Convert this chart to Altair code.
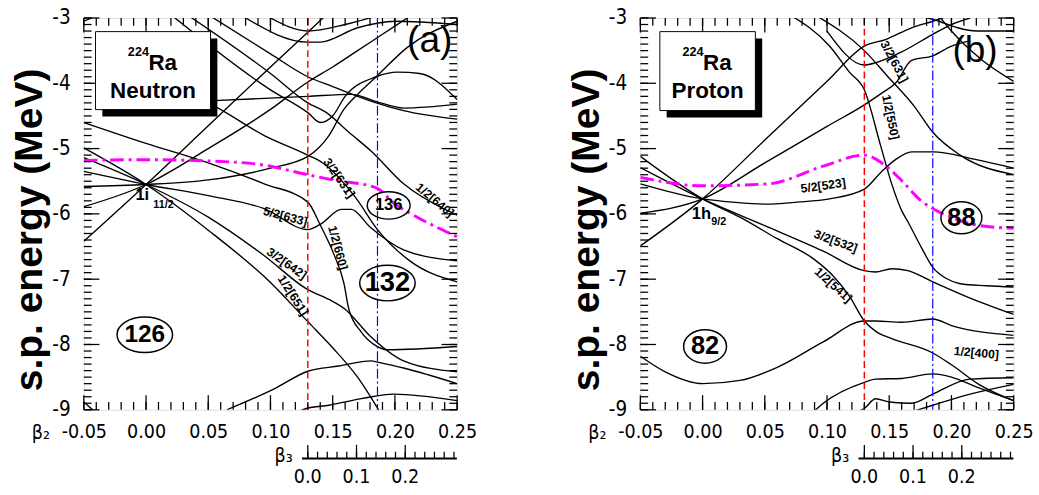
import altair as alt
import pandas as pd

W, H = 383, 402
XDOM = [-0.05, 0.25]
YDOM = [-9.0, -3.0]
NARROW = "Liberation Sans Narrow, Arial Narrow, DejaVu Sans Condensed, Roboto Condensed, Liberation Sans, Arial"
SANS = "Liberation Sans, Arial, Helvetica"

# ---------------- Panel (a): neutron levels (beta2, energy) ----------------
a_651_b = [-0.05, 0.0, 0.05, 0.10, 0.13, 0.15, 0.17, 0.19]
a_651_e = [-4.99, -5.55, -6.25, -7.05, -7.65, -8.05, -8.5, -9.1]
a_642_b = [-0.05, 0.0, 0.05, 0.095, 0.13, 0.147, 0.16, 0.18, 0.207, 0.25]
a_642_e = [-5.14, -5.55, -6.05, -6.64, -7.16, -7.31, -7.46, -7.87, -8.25, -8.42]
a_633_b = [-0.05, 0.0, 0.05, 0.095, 0.13, 0.14, 0.157, 0.165, 0.18, 0.207, 0.25]
a_633_e = [-5.35, -5.55, -5.72, -5.92, -6.24, -6.16, -5.93, -5.93, -6.2, -6.55, -6.72]
a_i7_b = [-0.05, 0.0, 0.05, 0.10, 0.13, 0.147, 0.159, 0.17, 0.185, 0.21, 0.25]
a_i7_e = [-5.58, -5.55, -5.48, -5.3, -5.12, -4.8, -4.4, -4.17, -3.9, -3.45, -3.05]
a_i9_b = [-0.05, 0.0, 0.05, 0.10, 0.13, 0.15, 0.17, 0.19, 0.21]
a_i9_e = [-5.89, -5.55, -5.0, -4.4, -3.98, -3.75, -3.5, -3.25, -3.0]
a_i11_b = [-0.05, 0.0, 0.05, 0.10, 0.13, 0.145]
a_i11_e = [-6.42, -5.55, -4.65, -3.75, -3.22, -2.95]
a_660_b = [-0.05, 0.0, 0.05, 0.095, 0.13, 0.14, 0.151, 0.159, 0.163, 0.173, 0.184, 0.194, 0.25]
a_660_e = [-4.6, -4.92, -5.22, -5.54, -5.82, -6.17, -6.62, -7.06, -7.46, -7.81, -8.01, -8.08, -8.03]
a_631_b = [-0.03, 0.0, 0.053, 0.095, 0.13, 0.142, 0.168, 0.186, 0.212, 0.25]
a_631_e = [-3.75, -3.95, -4.33, -4.8, -5.1, -5.22, -5.74, -6.24, -6.72, -7.04]
a_640_b = [0.033, 0.10, 0.13, 0.145, 0.163, 0.181, 0.207, 0.241, 0.25]
a_640_e = [-2.95, -3.85, -4.3, -4.45, -4.75, -5.04, -5.54, -5.94, -6.02]
a_hump_b = [0.02, 0.10, 0.13, 0.14, 0.15, 0.16, 0.185, 0.202, 0.22, 0.25]
a_hump_e = [-2.95, -4.1, -4.45, -4.6, -4.5, -4.2, -3.9, -3.83, -3.85, -4.25]
a_c_b = [0.05, 0.10, 0.13, 0.15, 0.17, 0.185, 0.207, 0.25]
a_c_e = [-2.95, -3.55, -3.9, -4.05, -4.2, -4.3, -4.42, -4.55]
a_flat_b = [-0.02, 0.05, 0.13, 0.165, 0.185, 0.207, 0.25]
a_flat_e = [-4.32, -4.27, -4.2, -4.17, -4.28, -4.38, -4.32]
a_top1_b = [0.08, 0.13, 0.14, 0.17, 0.20, 0.25]
a_top1_e = [-3.0, -3.37, -3.37, -3.15, -3.05, -3.1]
a_top2_b = [0.10, 0.13, 0.16, 0.185]
a_top2_e = [-3.0, -3.2, -3.1, -2.97]
a_cor1_b = [-0.05, -0.025]
a_cor1_e = [-3.05, -2.85]
a_p1_b = [0.065, 0.103, 0.13, 0.155, 0.181, 0.186, 0.207, 0.25]
a_p1_e = [-9.0, -8.68, -8.41, -8.33, -8.25, -8.27, -8.36, -8.6]
a_p2_b = [0.12, 0.129, 0.147, 0.173, 0.199, 0.25]
a_p2_e = [-9.05, -8.98, -8.93, -8.83, -8.76, -8.86]
a_cor2_b = [-0.05, -0.04]
a_cor2_e = [-8.88, -9.05]
a_fermi_b = [-0.05, 0.0, 0.05, 0.09, 0.13, 0.15, 0.185, 0.20, 0.215, 0.25]
a_fermi_e = [-5.18, -5.17, -5.19, -5.24, -5.4, -5.48, -5.6, -5.85, -6.02, -6.35]

# ---------------- Panel (b): proton levels ----------------
b_541_b = [-0.05, 0.0, 0.03, 0.06, 0.09, 0.105, 0.118, 0.13, 0.14, 0.152, 0.185, 0.2, 0.222, 0.25]
b_541_e = [-5.12, -5.77, -6.05, -6.38, -6.7, -6.95, -7.26, -7.64, -7.81, -7.91, -8.13, -8.31, -8.61, -8.86]
b_532_b = [-0.05, 0.0, 0.05, 0.097, 0.13, 0.139, 0.152, 0.165, 0.185, 0.215, 0.25]
b_532_e = [-5.29, -5.77, -6.18, -6.57, -6.87, -6.89, -6.84, -6.87, -7.04, -7.29, -7.54]
b_523_b = [-0.05, 0.0, 0.024, 0.05, 0.076, 0.102, 0.13, 0.144, 0.155, 0.168, 0.185, 0.22, 0.25]
b_523_e = [-5.54, -5.77, -5.82, -5.85, -5.82, -5.77, -5.62, -5.35, -5.17, -5.05, -5.05, -5.17, -5.3]
b_h7_b = [-0.05, 0.0, 0.05, 0.10, 0.13, 0.144, 0.155, 0.168, 0.185, 0.2, 0.215]
b_h7_e = [-5.99, -5.77, -5.22, -4.66, -4.33, -4.15, -4.0, -3.65, -3.58, -3.43, -3.35]
b_h9_b = [-0.05, 0.0, 0.05, 0.10, 0.13, 0.147, 0.168, 0.185, 0.20]
b_h9_e = [-6.49, -5.77, -4.87, -3.97, -3.43, -3.33, -3.15, -3.05, -2.95]
b_550_b = [0.07, 0.102, 0.118, 0.13, 0.143, 0.152, 0.16, 0.165, 0.176, 0.185, 0.196, 0.207, 0.228, 0.25]
b_550_e = [-2.95, -3.43, -3.83, -4.1, -4.95, -5.54, -5.95, -6.12, -6.52, -6.82, -6.99, -7.07, -7.1, -7.12]
b_631_b = [0.09, 0.13, 0.149, 0.17, 0.185, 0.207, 0.25]
b_631_e = [-2.95, -3.5, -3.9, -4.35, -4.75, -5.1, -5.4]
b_v_b = [0.10, 0.13, 0.14, 0.16, 0.185, 0.2, 0.215]
b_v_e = [-3.2, -3.72, -3.68, -3.52, -3.25, -3.1, -3.0]
b_t1_b = [0.175, 0.19, 0.205, 0.22, 0.25]
b_t1_e = [-2.97, -3.05, -3.15, -3.2, -3.2]
b_t2_b = [0.19, 0.2, 0.21, 0.225, 0.25]
b_t2_e = [-2.97, -3.2, -3.4, -3.65, -3.97]
b_u_b = [-0.05, -0.03, 0.0, 0.03, 0.06, 0.097, 0.13, 0.139, 0.16, 0.185, 0.2, 0.25]
b_u_e = [-8.18, -8.42, -8.6, -8.55, -8.35, -7.96, -7.64, -7.64, -7.66, -7.61, -7.71, -7.86]
b_l1_b = [0.088, 0.097, 0.13, 0.139, 0.16, 0.185, 0.2, 0.22, 0.25]
b_l1_e = [-9.05, -8.9, -8.58, -8.53, -8.52, -8.45, -8.5, -8.65, -8.86]
b_l2_b = [0.12, 0.13, 0.139, 0.15, 0.168, 0.185, 0.215, 0.25]
b_l2_e = [-9.05, -8.98, -8.83, -8.88, -8.9, -8.76, -8.53, -8.51]
b_l3_b = [0.165, 0.185, 0.215, 0.25]
b_l3_e = [-9.05, -8.93, -8.76, -8.61]
b_fermi_b = [-0.05, 0.0, 0.053, 0.097, 0.13, 0.144, 0.16, 0.175, 0.187, 0.196, 0.22, 0.25]
b_fermi_e = [-5.44, -5.57, -5.54, -5.27, -5.1, -5.22, -5.49, -5.79, -5.94, -6.02, -6.17, -6.22]

# deformation where beta3 switches on, and the second marker
a_red, a_blue = 0.13, 0.186
b_red, b_blue = 0.13, 0.185
# beta3 per unit of beta2 along the lower axis (0.1 in beta3 spans ~0.039 in beta2)
B3_PER_B2 = 0.3915

# Nilsson labels: text, beta2, energy
a_labels = [("3/2[631]", 0.155, -5.45), ("1/2[640]", 0.232, -5.79), ("5/2[633]", 0.112, -6.04),
            ("1/2[660]", 0.154, -6.52), ("3/2[642]", 0.113, -6.76), ("1/2[651]", 0.118, -7.25)]
a_label_ang = [55, 40, 15, 75, 35, 57]
b_labels = [("3/2[631]", 0.154, -3.67), ("1/2[550]", 0.151, -4.52), ("5/2[523]", 0.097, -5.57),
            ("3/2[532]", 0.107, -6.42), ("1/2[541]", 0.105, -7.09), ("1/2[400]", 0.22, -8.13)]
b_label_ang = [62, 78, 352, 20, 42, 5]
# shell gaps: text, beta2, energy
a_gaps = [("136", 0.195, -5.87), ("132", 0.194, -7.06), ("126", -0.001, -7.85)]
b_gaps = [("88", 0.208, -6.06), ("82", 0.002, -8.03)]

b2_major = [-0.05, 0.0, 0.05, 0.10, 0.15, 0.20, 0.25]
b2_minor = [round(-0.05 + 0.01 * i, 3) for i in range(31)]
e_major = [-9, -8, -7, -6, -5, -4, -3]
e_minor = [round(-9 + 0.1 * i, 2) for i in range(61)]
b3_major = [0.0, 0.1, 0.2]
b3_major_txt = ["0.0", "0.1", "0.2"]
b3_minor = [round(0.02 * i, 2) for i in range(16)]


def make_df(pairs):
    rows = []
    for name, (xs, ys) in pairs.items():
        for x, y in zip(xs, ys):
            rows.append({"id": name, "b2": x, "e": y})
    return pd.DataFrame(rows)


XS = alt.Scale(domain=XDOM, nice=False, zero=False)
YS = alt.Scale(domain=YDOM, nice=False, zero=False)
ONE = pd.DataFrame({"k": [0]})

ELL_WIDE = "M -1 0 A 1 0.64 0 1 1 1 0 A 1 0.64 0 1 1 -1 0 Z"
ELL_ROUND = "M -1 0 A 1 0.78 0 1 1 1 0 A 1 0.78 0 1 1 -1 0 Z"
MINUS_FIX = "replace(datum.label, '\u2212', '-')"

X_AXIS = alt.Axis(values=b2_major, format=".2f", labelExpr=MINUS_FIX, labelFontSize=20, labelFont=NARROW,
                  ticks=False, domain=False, grid=False, labelPadding=12, title=None, labelColor="black",
                  labelFlush=False)
Y_AXIS = alt.Axis(values=e_major, format="d", labelExpr=MINUS_FIX, labelFontSize=21, labelFont=NARROW,
                  ticks=False, domain=False, grid=False, labelPadding=14, labelColor="black",
                  title="s.p. energy (MeV)", titleFontSize=40, titleFont=SANS, titleFontWeight="bold",
                  titleColor="black", titleX=-35, titleY=217, titleAngle=270, titleBaseline="bottom",
                  titleAlign="center")


def X(f="b2"):
    return alt.X(f + ":Q", scale=XS)


def Y(f="e"):
    return alt.Y(f + ":Q", scale=YS)


def panel(levels, fermi, red, blue, labels, angles, gaps, gap_sizes, tag, nucleon, box, sub_pos):
    lines_df = make_df(levels)
    base_lines = alt.Chart(lines_df).mark_line(color="black", strokeWidth=1.4, clip=True,
                                                interpolate="monotone").encode(
        x=alt.X("b2:Q", scale=XS, axis=X_AXIS), y=alt.Y("e:Q", scale=YS, axis=Y_AXIS), detail="id:N")
    fermi_df = pd.DataFrame({"b2": fermi[0], "e": fermi[1]})
    fermi_line = alt.Chart(fermi_df).mark_line(color="#ff00ff", strokeWidth=3, strokeDash=[14, 5, 3, 5],
                                               clip=True, interpolate="monotone").encode(x=X(), y=Y())
    red_rule = alt.Chart(pd.DataFrame({"b2": [red]})).mark_rule(
        color="#ff0000", strokeWidth=1.5, strokeDash=[7, 4]).encode(x=X())
    blue_rule = alt.Chart(pd.DataFrame({"b2": [blue]})).mark_rule(
        color="#0000ff", strokeWidth=1.2, strokeDash=[10, 3, 2, 3]).encode(x=X())
    layers = [base_lines, red_rule, blue_rule, fermi_line]

    # inward ticks on all four sides
    def xt(vals, y0, y1):
        return alt.Chart(pd.DataFrame({"b2": vals})).mark_rule(color="black", strokeWidth=1.3).encode(
            x=X(), y=alt.value(y0), y2=alt.value(y1))

    def yt(vals, x0, x1):
        return alt.Chart(pd.DataFrame({"e": vals})).mark_rule(color="black", strokeWidth=1.3).encode(
            y=Y(), x=alt.value(x0), x2=alt.value(x1))

    layers += [xt(b2_major, H, H - 15), xt(b2_minor, H, H - 8), xt(b2_major, 0, 15), xt(b2_minor, 0, 8),
               yt(e_major, 0, 16), yt(e_minor, 0, 8), yt(e_major, W, W - 16), yt(e_minor, W, W - 8)]

    # level labels
    for (txt, bx, ey), ang in zip(labels, angles):
        layers.append(alt.Chart(pd.DataFrame({"b2": [bx], "e": [ey], "t": [txt]})).mark_text(
            font=SANS, fontSize=12.5, fontWeight="bold", angle=ang, color="black").encode(
            x=X(), y=Y(), text="t:N"))
    # shell-gap numbers in ellipses
    for (txt, bx, ey), (sz, shp, fs) in zip(gaps, gap_sizes):
        d = pd.DataFrame({"b2": [bx], "e": [ey], "t": [txt]})
        layers.append(alt.Chart(d).mark_point(shape=shp, size=sz, filled=False, color="black",
                                              strokeWidth=1.5, opacity=1).encode(x=X(), y=Y()))
        layers.append(alt.Chart(d).mark_text(font=SANS, fontSize=fs, fontWeight="bold",
                                             color="black").encode(x=X(), y=Y(), text="t:N"))
    # orbital label at the crossing
    (main_txt, mx, my), (sub_txt, sx, sy) = sub_pos
    layers.append(alt.Chart(pd.DataFrame({"b2": [mx], "e": [my], "t": [main_txt]})).mark_text(
        font=SANS, fontSize=17, fontWeight="bold", color="black").encode(x=X(), y=Y(), text="t:N"))
    layers.append(alt.Chart(pd.DataFrame({"b2": [sx], "e": [sy], "t": [sub_txt]})).mark_text(
        font=SANS, fontSize=11, fontWeight="bold", color="black").encode(x=X(), y=Y(), text="t:N"))
    # panel tag
    layers.append(alt.Chart(pd.DataFrame({"b2": [tag[1]], "e": [tag[2]], "t": [tag[0]]})).mark_text(
        font=SANS, fontSize=38, color="black").encode(x=X(), y=Y(), text="t:N"))
    # nucleus box with shadow
    x0, y0, x1, y1 = box
    layers.append(alt.Chart(ONE).mark_rect(color="black").encode(
        x=alt.value(x0 + 7), x2=alt.value(x1 + 7), y=alt.value(y0 + 7), y2=alt.value(y1 + 7)))
    layers.append(alt.Chart(ONE).mark_rect(fill="white", stroke="black", strokeWidth=1).encode(
        x=alt.value(x0), x2=alt.value(x1), y=alt.value(y0), y2=alt.value(y1)))
    cx = (x0 + x1) / 2
    layers.append(alt.Chart(ONE).mark_text(font=SANS, fontSize=13, fontWeight="bold", color="black",
                                           text="224").encode(x=alt.value(cx - 15), y=alt.value(y0 + 21)))
    layers.append(alt.Chart(ONE).mark_text(font=SANS, fontSize=23, fontWeight="bold", color="black",
                                           text="Ra").encode(x=alt.value(cx + 10), y=alt.value(y0 + 32)))
    layers.append(alt.Chart(ONE).mark_text(font=SANS, fontSize=23, fontWeight="bold", color="black",
                                           text=nucleon).encode(x=alt.value(cx), y=alt.value(y0 + 61)))
    # beta2 axis name
    layers.append(alt.Chart(ONE).mark_text(font=NARROW, fontSize=20, color="black", text="β₂").encode(
        x=alt.value(-44), y=alt.value(H + 24)))

    # secondary beta3 axis, placed along beta2 starting at the red line
    b3y = H + 50
    conv = "%g + datum.v * %g" % (red, B3_PER_B2)
    layers += [
        alt.Chart(pd.DataFrame({"v": [-0.012], "v2": [0.306]})).transform_calculate(
            b2=conv, b2e="%g + datum.v2 * %g" % (red, B3_PER_B2)).mark_rule(
            color="black", strokeWidth=2).encode(x=X(), x2="b2e:Q", y=alt.value(b3y)),
        alt.Chart(pd.DataFrame({"v": b3_major})).transform_calculate(b2=conv).mark_rule(
            color="black", strokeWidth=1.3).encode(x=X(), y=alt.value(b3y), y2=alt.value(b3y - 14)),
        alt.Chart(pd.DataFrame({"v": b3_minor})).transform_calculate(b2=conv).mark_rule(
            color="black", strokeWidth=1.3).encode(x=X(), y=alt.value(b3y), y2=alt.value(b3y - 7)),
        alt.Chart(pd.DataFrame({"v": b3_major, "t": b3_major_txt})).transform_calculate(b2=conv).mark_text(
            font=NARROW, fontSize=20, color="black").encode(x=X(), y=alt.value(b3y + 19), text="t:N"),
        alt.Chart(ONE).mark_text(font=NARROW, fontSize=20, color="black", text="β₃").encode(
            x=alt.value(205), y=alt.value(b3y - 2)),
    ]
    return alt.layer(*layers).properties(width=W, height=H)


a_levels = {
    "651": (a_651_b, a_651_e), "642": (a_642_b, a_642_e), "633": (a_633_b, a_633_e),
    "i7": (a_i7_b, a_i7_e), "i9": (a_i9_b, a_i9_e), "i11": (a_i11_b, a_i11_e),
    "660": (a_660_b, a_660_e), "631": (a_631_b, a_631_e), "640": (a_640_b, a_640_e),
    "hump": (a_hump_b, a_hump_e), "c": (a_c_b, a_c_e), "flat": (a_flat_b, a_flat_e),
    "top1": (a_top1_b, a_top1_e), "top2": (a_top2_b, a_top2_e), "cor1": (a_cor1_b, a_cor1_e),
    "p1": (a_p1_b, a_p1_e), "p2": (a_p2_b, a_p2_e), "cor2": (a_cor2_b, a_cor2_e),
}
b_levels = {
    "541": (b_541_b, b_541_e), "532": (b_532_b, b_532_e), "523": (b_523_b, b_523_e),
    "h7": (b_h7_b, b_h7_e), "h9": (b_h9_b, b_h9_e), "550": (b_550_b, b_550_e),
    "631": (b_631_b, b_631_e), "v": (b_v_b, b_v_e), "t1": (b_t1_b, b_t1_e), "t2": (b_t2_b, b_t2_e),
    "u": (b_u_b, b_u_e), "l1": (b_l1_b, b_l1_e), "l2": (b_l2_b, b_l2_e), "l3": (b_l3_b, b_l3_e),
}

pa = panel(a_levels, (a_fermi_b, a_fermi_e), a_red, a_blue, a_labels, a_label_ang, a_gaps,
           [(1936, ELL_WIDE, 17), (3249, ELL_WIDE, 28), (3249, ELL_WIDE, 25)],
           ("(a)", 0.228, -3.36), "Neutron", (12, 14, 130, 94),
           (("1i", -0.003, -5.72), ("11/2", 0.014, -5.86)))
pb = panel(b_levels, (b_fermi_b, b_fermi_e), b_red, b_blue, b_labels, b_label_ang, b_gaps,
           [(1764, ELL_ROUND, 26), (1936, ELL_ROUND, 26)],
           ("(b)", 0.219, -3.51), "Proton", (20, 14, 118, 95),
           (("1h", -0.001, -6.0), ("9/2", 0.013, -6.13)))

chart = alt.hconcat(pa, pb, spacing=91).properties(
    padding={"left": 10, "top": 0, "right": 5, "bottom": 2}
).configure_view(stroke="black", strokeWidth=2.5).configure(background="white")

chart.save("out.html", embed_options={"renderer": "svg", "actions": False})
